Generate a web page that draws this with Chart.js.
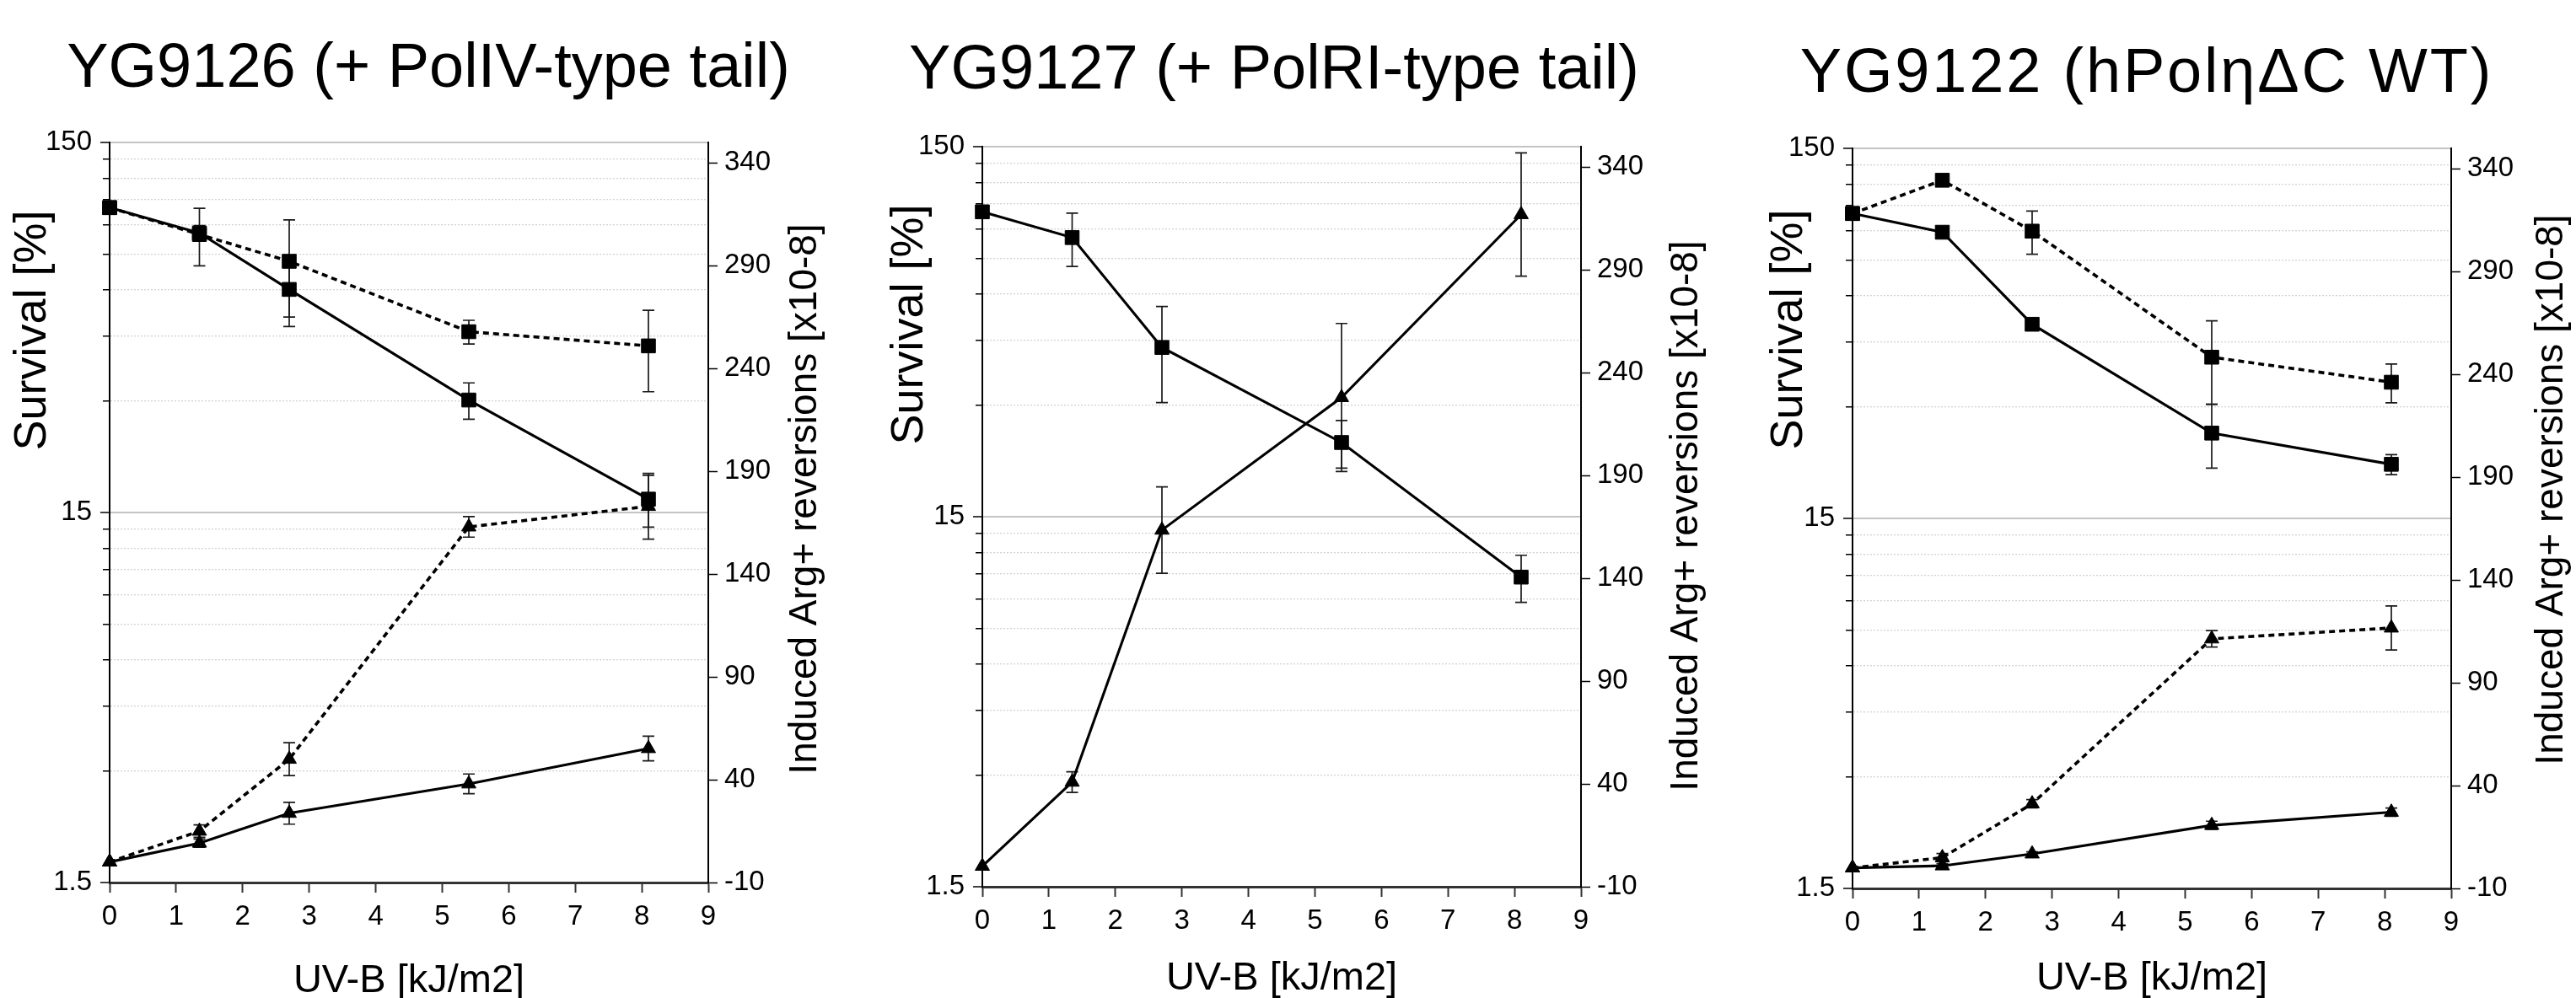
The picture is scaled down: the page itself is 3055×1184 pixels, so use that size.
<!DOCTYPE html>
<html><head><meta charset="utf-8">
<script src="https://cdn.jsdelivr.net/npm/chart.js@4.4.1/dist/chart.umd.min.js"></script>
<style>
html,body{margin:0;padding:0;background:#fff;}
body{width:3055px;height:1184px;position:relative;overflow:hidden;}
canvas{position:absolute;top:0;}
</style></head><body>
<canvas id="c1" width="1018" height="1184" style="left:0px"></canvas>
<canvas id="c2" width="1018" height="1184" style="left:1018px"></canvas>
<canvas id="c3" width="1019" height="1184" style="left:2036px"></canvas>
<script>
// ---------- data ----------
const doseKJ = [0, 1.35, 2.7, 5.4, 8.1];
const survivalTicks = [1.5, 3, 4.5, 6, 7.5, 9, 10.5, 12, 13.5, 15, 30, 45, 60, 75, 90, 105, 120, 135, 150];
const survivalLabels = [1.5, 15, 150];
const reversionTicks = [-10, 40, 90, 140, 190, 240, 290, 340];
const panelTitles = ['YG9126 (+ PolIV-type tail)', 'YG9127 (+ PolRI-type tail)', 'YG9122 (hPolηΔC WT)'];
const xAxisTitle = 'UV-B [kJ/m2]';
const leftAxisTitle = 'Survival [%]';
const rightAxisTitle = 'Induced Arg+ reversions [x10-8]';

// YG9126
const yg9126SurvivalA = [100, 85.4, 60.1, 30.2, 16.3];
const yg9126SurvivalAErr = [0, 4, 12.4, 3.4, 2.6];
const yg9126SurvivalB = [100, 84.6, 71.6, 46.2, 42.3];
const yg9126SurvivalBErr = [0, 15, 21, 3.4, 10.5];
const yg9126ReversionA = [0, 9.2, 23.7, 38, 55.2];
const yg9126ReversionAErr = [0, 2, 5.3, 4.8, 6];
const yg9126ReversionB = [0, 15, 50, 163, 173];
const yg9126ReversionBErr = [0, 3, 8, 5, 16];
// YG9127
const yg9127Survival = [100, 85.2, 43, 23.8, 10.3];
const yg9127SurvivalErr = [0, 14, 12.5, 3.5, 1.5];
const yg9127Reversion = [0, 40.9, 163.5, 228, 317];
const yg9127ReversionErr = [0, 5, 21, 36, 30];
// YG9122
const yg9122SurvivalA = [100, 89, 50.2, 25.5, 21.0];
const yg9122SurvivalAErr = [0, 1.5, 1.5, 5, 1.3];
const yg9122SurvivalB = [100, 123, 89.6, 40.9, 35.0];
const yg9122SurvivalBErr = [0, 0, 12, 10.4, 4.2];
const yg9122ReversionA = [0, 1, 6.8, 20.7, 27.1];
const yg9122ReversionAErr = [0, 1, 1, 2, 2];
const yg9122ReversionB = [0, 5, 31.2, 111.4, 116.7];
const yg9122ReversionBErr = [0, 2, 2, 4, 10.7];

// ---------- helpers ----------
const FONT = '"Liberation Sans", Arial, Helvetica, sans-serif';
Chart.defaults.font.family = FONT;

function series(values, errs, axis, dashed, style) {
  return {
    data: doseKJ.map((x, i) => ({x: x, y: values[i]})),
    errorBars: errs,
    yAxisID: axis,
    borderColor: '#000',
    backgroundColor: '#000',
    borderWidth: dashed ? 3.6 : 3.1,
    borderDash: dashed ? [7, 5] : [],
    pointStyle: style,
    pointRadius: style === 'rect' ? 11.7 : 9.8,
    pointHoverRadius: style === 'rect' ? 11.7 : 9.8,
    pointBackgroundColor: '#000',
    pointBorderColor: '#000',
    pointBorderWidth: 1,
    tension: 0,
    fill: false,
    clip: false
  };
}

const errorBarPlugin = {
  id: 'errorBars',
  beforeDatasetsDraw(chart) {
    const ctx = chart.ctx;
    const xs = chart.scales.x;
    chart.data.datasets.forEach((ds) => {
      const ys = chart.scales[ds.yAxisID];
      (ds.errorBars || []).forEach((e, i) => {
        if (!e) return;
        const v = ds.data[i].y;
        const px = xs.getPixelForValue(ds.data[i].x);
        const top = ys.getPixelForValue(v + e);
        const bot = ys.getPixelForValue(v - e);
        ctx.save();
        ctx.strokeStyle = '#1a1a1a';
        ctx.lineWidth = 1.7;
        ctx.setLineDash([]);
        ctx.beginPath();
        ctx.moveTo(px, top); ctx.lineTo(px, bot);
        ctx.moveTo(px - 7, top); ctx.lineTo(px + 7, top);
        ctx.moveTo(px - 7, bot); ctx.lineTo(px + 7, bot);
        ctx.stroke();
        ctx.restore();
      });
    });
  }
};

const textPlugin = {
  id: 'panelText',
  afterDraw(chart, args, o) {
    const ctx = chart.ctx;
    const off = o.offset;
    const ca = chart.chartArea;
    ctx.save();
    ctx.fillStyle = '#000';
    ctx.textAlign = 'center';
    ctx.textBaseline = 'alphabetic';
    ctx.font = '74px ' + FONT;
    ctx.letterSpacing = o.titleSpacing + 'px';
    ctx.fillText(o.title, o.titleX - off, o.titleY);
    ctx.letterSpacing = '0px';
    ctx.font = '47px ' + FONT;
    ctx.fillText(xAxisTitle, (ca.left + ca.right) / 2, o.xTitleY);
    ctx.save();
    ctx.translate(o.leftX - off, o.leftY);
    ctx.rotate(-Math.PI / 2);
    ctx.font = '54px ' + FONT;
    ctx.fillText(leftAxisTitle, 0, 0);
    ctx.restore();
    ctx.save();
    ctx.translate(o.rightX - off, o.rightY);
    ctx.rotate(-Math.PI / 2);
    ctx.font = '46px ' + FONT;
    ctx.fillText(rightAxisTitle, 0, 0);
    ctx.restore();
    ctx.restore();
  }
};

const panels = [
  { id: 'c1', left: 0, width: 1018, plotLeft: 130, plotRight: 840, plotTop: 169, plotBottom: 1047,
    title: panelTitles[0], titleSpacing: 0, titleX: 508, titleY: 103, leftX: 54, leftY: 392, rightX: 968, rightY: 592, xTitleY: 1177,
    datasets: [
      series(yg9126SurvivalA, yg9126SurvivalAErr, 'y', false, 'rect'),
      series(yg9126SurvivalB, yg9126SurvivalBErr, 'y', true, 'rect'),
      series(yg9126ReversionA, yg9126ReversionAErr, 'y2', false, 'triangle'),
      series(yg9126ReversionB, yg9126ReversionBErr, 'y2', true, 'triangle')
    ] },
  { id: 'c2', left: 1018, width: 1018, plotLeft: 1165, plotRight: 1875, plotTop: 174, plotBottom: 1052,
    title: panelTitles[1], titleSpacing: 0, titleX: 1511, titleY: 105, leftX: 1094, leftY: 385, rightX: 2013, rightY: 612, xTitleY: 1174,
    datasets: [
      series(yg9127Survival, yg9127SurvivalErr, 'y', false, 'rect'),
      series(yg9127Reversion, yg9127ReversionErr, 'y2', false, 'triangle')
    ] },
  { id: 'c3', left: 2036, width: 1019, plotLeft: 2197, plotRight: 2907, plotTop: 176, plotBottom: 1054,
    title: panelTitles[2], titleSpacing: 2.8, titleX: 2546, titleY: 109, leftX: 2137, leftY: 391, rightX: 3039, rightY: 581, xTitleY: 1174,
    datasets: [
      series(yg9122SurvivalA, yg9122SurvivalAErr, 'y', false, 'rect'),
      series(yg9122SurvivalB, yg9122SurvivalBErr, 'y', true, 'rect'),
      series(yg9122ReversionA, yg9122ReversionAErr, 'y2', false, 'triangle'),
      series(yg9122ReversionB, yg9122ReversionBErr, 'y2', true, 'triangle')
    ] }
];

const isMajor = (v) => v === 1.5 || v === 15 || v === 150;

panels.forEach((p) => {
  new Chart(document.getElementById(p.id), {
    type: 'line',
    data: { datasets: p.datasets },
    plugins: [errorBarPlugin, textPlugin],
    options: {
      responsive: false,
      animation: false,
      events: [],
      layout: { padding: { top: p.plotTop, left: 0, right: 0, bottom: 0 } },
      plugins: {
        legend: { display: false },
        tooltip: { enabled: false },
        title: { display: false },
        panelText: { offset: p.left, title: p.title, titleSpacing: p.titleSpacing, titleX: p.titleX, titleY: p.titleY,
          leftX: p.leftX, leftY: p.leftY, rightX: p.rightX, rightY: p.rightY, xTitleY: p.xTitleY }
      },
      scales: {
        x: {
          type: 'linear', position: 'bottom', min: 0, max: 9,
          afterFit: (s) => { s.height = 1184 - p.plotBottom; },
          ticks: { stepSize: 1, color: '#000', padding: 9, font: { size: 33 }, maxRotation: 0 },
          grid: { drawOnChartArea: false, drawTicks: true, tickLength: 12, tickColor: '#333', tickWidth: 2 },
          border: { display: true, color: '#333', width: 3 }
        },
        y: {
          type: 'logarithmic', position: 'left', min: 1.5, max: 150,
          afterFit: (s) => { s.width = p.plotLeft - p.left; },
          afterBuildTicks: (s) => { s.ticks = survivalTicks.map((v) => ({ value: v })); },
          ticks: { autoSkip: false, color: '#000', padding: 10, font: { size: 33 },
            callback: (v) => survivalLabels.includes(v) ? String(v) : '' },
          grid: {
            drawOnChartArea: true, drawTicks: true, tickLength: 11, tickColor: '#000', tickWidth: 1.5,
            tickBorderDash: (c) => (c.tick && !isMajor(c.tick.value)) ? [0, 3, 9, 100] : [],
            color: (c) => (c.tick && c.tick.value === 1.5) ? 'rgba(0,0,0,0)' : (c.tick && isMajor(c.tick.value) ? '#c4c4c4' : '#d2d2d2'),
            lineWidth: (c) => (c.tick && isMajor(c.tick.value)) ? 2 : 1.3
          },
          border: { display: true, color: '#000', width: 2,
            dash: (c) => (c.tick && !isMajor(c.tick.value)) ? [2, 2] : [] }
        },
        y2: {
          type: 'linear', position: 'right', min: -10, max: 350,
          afterFit: (s) => { s.width = p.left + p.width - p.plotRight; },
          afterBuildTicks: (s) => { s.ticks = reversionTicks.map((v) => ({ value: v })); },
          ticks: { autoSkip: false, color: '#000', padding: 8, font: { size: 33 } },
          grid: { drawOnChartArea: false, drawTicks: true, tickLength: 11, tickColor: '#000', tickWidth: 1.5 },
          border: { display: true, color: '#000', width: 2 }
        }
      }
    }
  });
});
</script>
</body></html>
